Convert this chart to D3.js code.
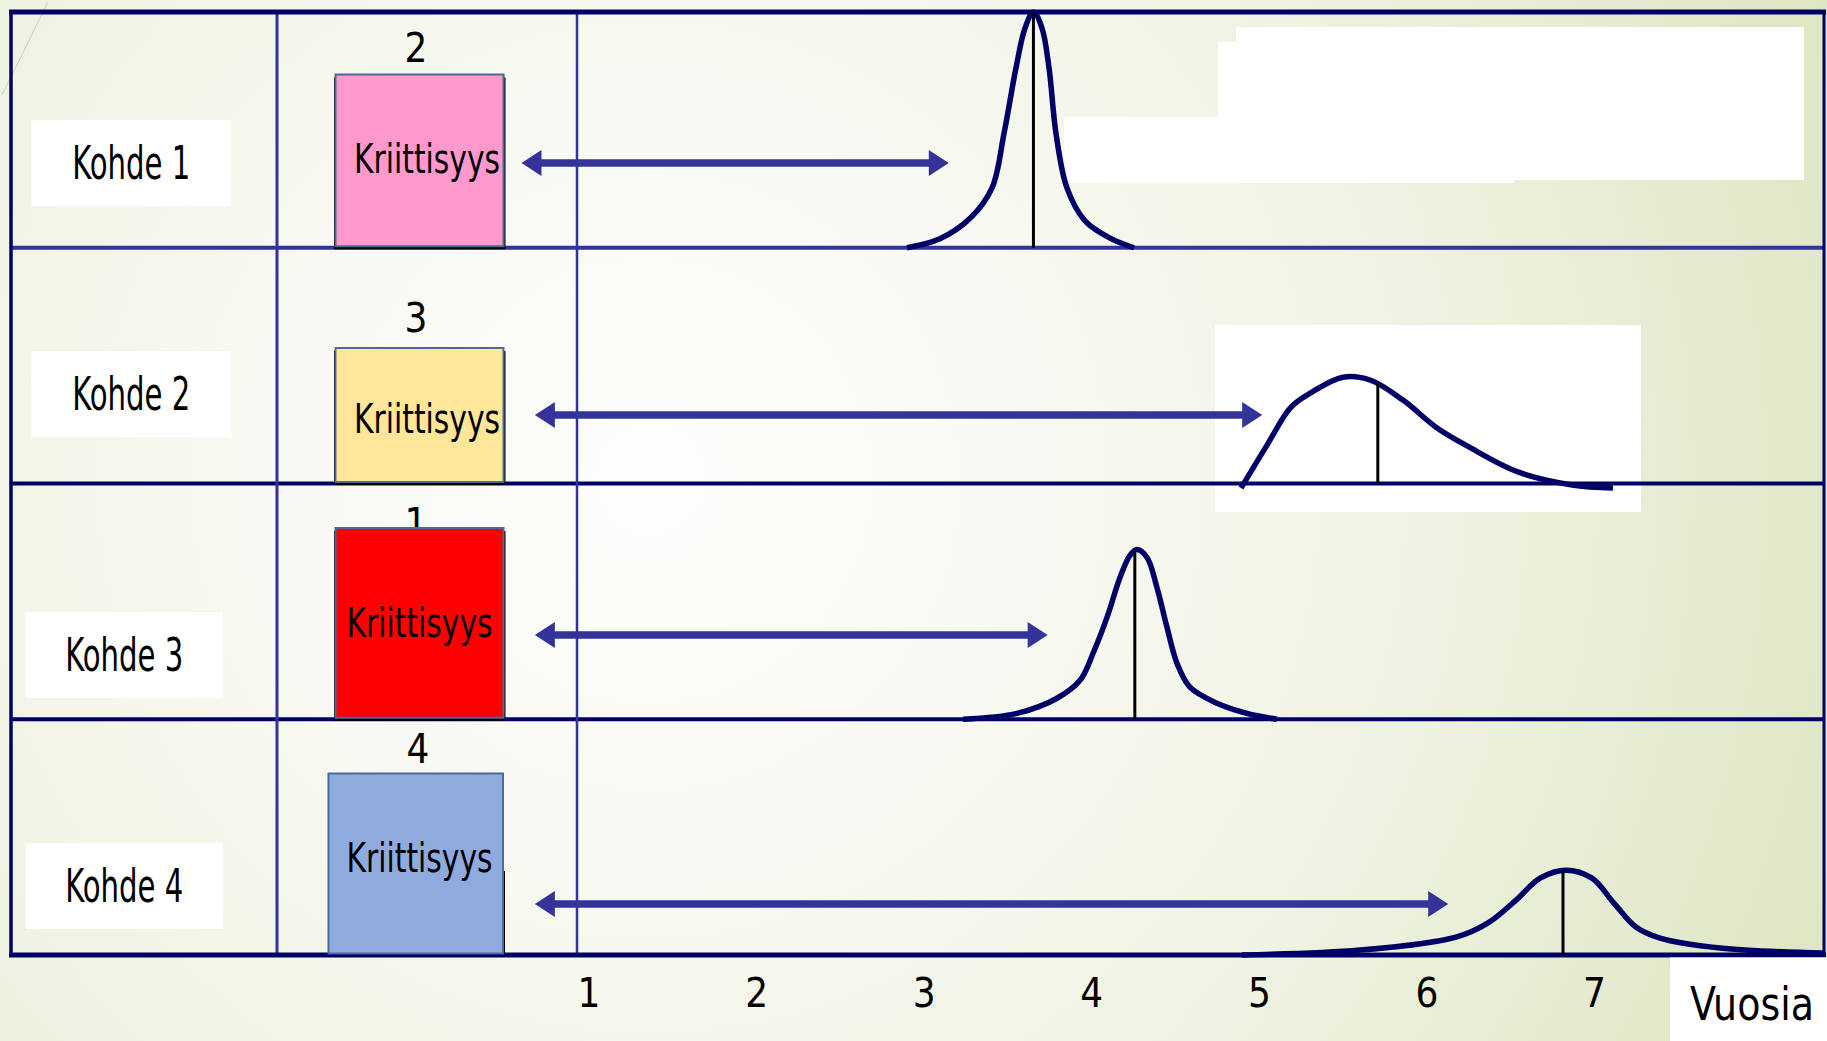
<!DOCTYPE html>
<html>
<head>
<meta charset="utf-8">
<script src="https://cdn.jsdelivr.net/npm/d3@7"></script>
<style>
  html, body { margin: 0; padding: 0; overflow: hidden; background: #fff; }
  svg { display: block; }
  text { font-family: 'Liberation Sans Narrow', 'Arial Narrow', 'DejaVu Sans Condensed', sans-serif; fill: #000; }
</style>
</head>
<body>
<div id="chart"></div>
<script>
const width = 1827;
const height = 1041;

// Data
const kohteet = ['Kohde 1', 'Kohde 2', 'Kohde 3', 'Kohde 4'];
const kriittisyys = [2, 3, 1, 4];
const boxLabel = 'Kriittisyys';
const vuodet = [1, 2, 3, 4, 5, 6, 7];
const axisTitle = 'Vuosia';

// arrows, in years
const arrowStart = [0.6, 0.68, 0.68, 0.68];
const arrowEnd = [3.15, 5.02, 3.74, 6.13];

// marker line under each distribution: year and height (share of row)
const markerYear = [3.655, 5.71, 4.26, 6.815];
const markerHeight = [1.0, 0.425, 0.708, 0.352];

// distributions: [year, height as share of row]
const jakauma1 = [[2.900, 0], [3.097, 0.038], [3.280, 0.127], [3.408, 0.254], [3.479, 0.483],
  [3.551, 0.763], [3.605, 0.932], [3.655, 1.0], [3.706, 0.932], [3.748, 0.763], [3.790, 0.483],
  [3.855, 0.254], [3.963, 0.114], [4.109, 0.042], [4.255, 0]];
const jakauma2 = [[4.894, -0.019], [5.049, 0.163], [5.192, 0.324], [5.317, 0.388], [5.502, 0.451],
  [5.663, 0.439], [5.860, 0.354], [6.057, 0.239], [6.254, 0.155], [6.546, 0.049],
  [6.869, -0.006], [7.113, -0.019]];
const jakauma3 = [[3.235, 0], [3.557, 0.025], [3.796, 0.089], [3.933, 0.165], [4.011, 0.280],
  [4.094, 0.432], [4.172, 0.602], [4.231, 0.695], [4.273, 0.720], [4.333, 0.686], [4.392, 0.559],
  [4.452, 0.390], [4.512, 0.237], [4.589, 0.136], [4.750, 0.068], [4.929, 0.025], [5.108, 0]];
const jakauma4 = [[4.899, 0], [5.604, 0.021], [6.177, 0.076], [6.368, 0.136], [6.535, 0.233],
  [6.678, 0.326], [6.833, 0.360], [6.988, 0.326], [7.119, 0.220], [7.250, 0.119],
  [7.394, 0.072], [7.752, 0.030], [8.366, 0.008]];
const jakaumat = [jakauma1, jakauma2, jakauma3, jakauma4];

const boxColors = ['#ff99cc', '#ffe699', '#ff0000', '#8faadc'];

// Page layout per row (pixels)
const layout = [
  { lx: 31.5, lw: 199.5, ly: 120, bx: 335.5, bw: 168, by: 74.5, num: 62, nx: 416, txt: 173, tcx: 427, ay: 163, shadow: 'full' },
  { lx: 31.5, lw: 199.5, ly: 351, bx: 335.5, bw: 168, by: 348, num: 332, nx: 416, txt: 433, tcx: 427, ay: 415, shadow: 'full' },
  { lx: 25.5, lw: 197.5, ly: 612, bx: 335.5, bw: 168, by: 528, num: 537, nx: 416, txt: 637, tcx: 419.5, ay: 635, shadow: 'full' },
  { lx: 25.5, lw: 197.5, ly: 843, bx: 328.5, bw: 174.5, by: 773.5, num: 763, nx: 418, txt: 872, tcx: 419.5, ay: 904, shadow: 'side' },
];

const svg = d3.select('#chart')
  .append('svg')
  .attr('width', width)
  .attr('height', height);

// Background
const grad = svg.append('defs')
  .append('radialGradient')
  .attr('id', 'bg')
  .attr('gradientUnits', 'userSpaceOnUse')
  .attr('cx', 650).attr('cy', 480).attr('r', 1350);
[[0, '#fdfdfb'], [0.3, '#f8f9f2'], [0.6, '#eef2e0'], [1, '#dbe4be']]
  .forEach(([o, c]) => grad.append('stop').attr('offset', o).attr('stop-color', c));

svg.append('rect')
  .attr('width', width)
  .attr('height', height)
  .attr('fill', 'url(#bg)');

svg.append('line')
  .attr('x1', 2).attr('y1', 95).attr('x2', 48).attr('y2', 2)
  .attr('stroke', '#c9d0ba').attr('stroke-width', 1);

// Scales
const x = d3.scaleLinear()
  .domain([1, 7])
  .range([588.5, 1594]);

const row = d3.scaleBand()
  .domain(kohteet)
  .range([12, 955]);

const hScale = d3.scaleLinear()
  .domain([0, 1])
  .range([0, row.bandwidth()]);

const baseOf = (i) => row(kohteet[i]) + row.bandwidth();

// White patches on the right
const patches = [
  [1236, 27, 568, 153], [1218, 42, 296, 141], [1064, 117, 154, 66],
  [1215, 325, 426, 187],
];
svg.append('g')
  .selectAll('rect')
  .data(patches)
  .join('rect')
  .attr('x', d => d[0]).attr('y', d => d[1])
  .attr('width', d => d[2]).attr('height', d => d[3])
  .attr('fill', '#fff');

// Table lines
const tableLeft = 11;
const tableRight = 1824;
const tableTop = row.range()[0];
const tableBottom = row.range()[1];
const grid = svg.append('g').attr('fill', 'none');

grid.selectAll('line.row')
  .data(kohteet.slice(1))
  .join('line')
  .attr('class', 'row')
  .attr('x1', tableLeft).attr('x2', tableRight)
  .attr('y1', d => row(d)).attr('y2', d => row(d))
  .attr('stroke', (d, i) => i === 0 ? '#333399' : '#000066')
  .attr('stroke-width', 4);

[[277, 3, '#333399'], [577, 2.5, '#333399']].forEach(([vx, w, c]) => {
  grid.append('line')
    .attr('x1', vx).attr('x2', vx).attr('y1', tableTop).attr('y2', tableBottom)
    .attr('stroke', c).attr('stroke-width', w);
});

grid.append('line')
  .attr('x1', tableLeft).attr('x2', tableLeft).attr('y1', tableTop).attr('y2', tableBottom)
  .attr('stroke', '#000066').attr('stroke-width', 3.5);
grid.append('line')
  .attr('x1', tableRight).attr('x2', tableRight).attr('y1', tableTop).attr('y2', tableBottom)
  .attr('stroke', '#000066').attr('stroke-width', 3);
grid.append('line')
  .attr('x1', tableLeft - 2).attr('x2', tableRight + 2).attr('y1', tableTop).attr('y2', tableTop)
  .attr('stroke', '#000066').attr('stroke-width', 5);
grid.append('line')
  .attr('x1', tableLeft - 2).attr('x2', tableRight + 2).attr('y1', tableBottom).attr('y2', tableBottom)
  .attr('stroke', '#000066').attr('stroke-width', 5);

// Rows
const rows = svg.append('g')
  .selectAll('g')
  .data(kohteet)
  .join('g');

// Kohde labels
rows.append('rect')
  .attr('x', (d, i) => layout[i].lx)
  .attr('y', (d, i) => layout[i].ly)
  .attr('width', (d, i) => layout[i].lw)
  .attr('height', 86)
  .attr('fill', '#fff');

rows.append('text')
  .attr('x', (d, i) => layout[i].lx + layout[i].lw / 2)
  .attr('y', (d, i) => layout[i].ly + 59)
  .attr('text-anchor', 'middle')
  .attr('font-size', 46)
  .attr('textLength', 118)
  .attr('lengthAdjust', 'spacingAndGlyphs')
  .text(d => d);

// Criticality numbers (drawn before the boxes: "1" hides behind its box)
rows.append('text')
  .attr('x', (d, i) => layout[i].nx)
  .attr('y', (d, i) => layout[i].num)
  .attr('text-anchor', 'middle')
  .attr('font-size', 40)
  .text((d, i) => kriittisyys[i]);

// Box shadows
rows.append('rect')
  .attr('x', (d, i) => layout[i].shadow === 'full' ? layout[i].bx - 1.5 : layout[i].bx + layout[i].bw - 1)
  .attr('y', (d, i) => layout[i].shadow === 'full' ? layout[i].by + 3 : 871)
  .attr('width', (d, i) => layout[i].shadow === 'full' ? layout[i].bw + 3.5 : 3)
  .attr('height', (d, i) => layout[i].shadow === 'full' ? baseOf(i) - layout[i].by - 1.5 : baseOf(i) - 871)
  .attr('fill', '#000');

// Criticality boxes
rows.append('rect')
  .attr('x', (d, i) => layout[i].bx)
  .attr('y', (d, i) => layout[i].by)
  .attr('width', (d, i) => layout[i].bw)
  .attr('height', (d, i) => baseOf(i) - layout[i].by - 1.5)
  .attr('fill', (d, i) => boxColors[i])
  .attr('stroke', '#4a6a9c')
  .attr('stroke-width', 2);

rows.append('text')
  .attr('x', (d, i) => layout[i].tcx)
  .attr('y', (d, i) => layout[i].txt)
  .attr('text-anchor', 'middle')
  .attr('font-size', 41)
  .attr('textLength', 146)
  .attr('lengthAdjust', 'spacingAndGlyphs')
  .text(boxLabel);

// Arrows
function arrowPath(x0, x1, y) {
  const t = 3.8, hl = 20, hh = 13;
  return `M${x0},${y} L${x0 + hl},${y - hh} L${x0 + hl},${y - t} L${x1 - hl},${y - t} ` +
    `L${x1 - hl},${y - hh} L${x1},${y} L${x1 - hl},${y + hh} L${x1 - hl},${y + t} ` +
    `L${x0 + hl},${y + t} L${x0 + hl},${y + hh} Z`;
}

rows.append('path')
  .attr('d', (d, i) => arrowPath(x(arrowStart[i]), x(arrowEnd[i]), layout[i].ay))
  .attr('fill', '#333399');

// Distributions
rows.append('path')
  .attr('d', (d, i) => d3.line()
    .x(p => x(p[0]))
    .y(p => baseOf(i) - hScale(p[1]))
    .curve(d3.curveCatmullRom.alpha(0.5))(jakaumat[i]))
  .attr('fill', 'none')
  .attr('stroke', '#000066')
  .attr('stroke-width', 5.5)
  .attr('stroke-linejoin', 'round');

rows.append('line')
  .attr('x1', (d, i) => x(markerYear[i]))
  .attr('x2', (d, i) => x(markerYear[i]))
  .attr('y1', (d, i) => baseOf(i))
  .attr('y2', (d, i) => baseOf(i) - hScale(markerHeight[i]))
  .attr('stroke', '#000')
  .attr('stroke-width', 3);

// Year axis
const axis = svg.append('g')
  .attr('transform', `translate(0, ${tableBottom})`)
  .call(d3.axisBottom(x).tickValues(vuodet).tickSize(0).tickFormat(d3.format('d')));

axis.select('.domain').remove();
axis.attr('font-family', null).attr('font-size', null);
axis.selectAll('text')
  .attr('y', 52)
  .attr('dy', null)
  .attr('font-size', 40)
  .attr('fill', '#000');

// Axis title
svg.append('rect')
  .attr('x', 1670).attr('y', tableBottom + 2.5)
  .attr('width', width - 1670).attr('height', height - tableBottom)
  .attr('fill', '#fff');

svg.append('text')
  .attr('x', 1690)
  .attr('y', 1020)
  .attr('font-size', 47)
  .attr('textLength', 124)
  .attr('lengthAdjust', 'spacingAndGlyphs')
  .text(axisTitle);
</script>
</body>
</html>
